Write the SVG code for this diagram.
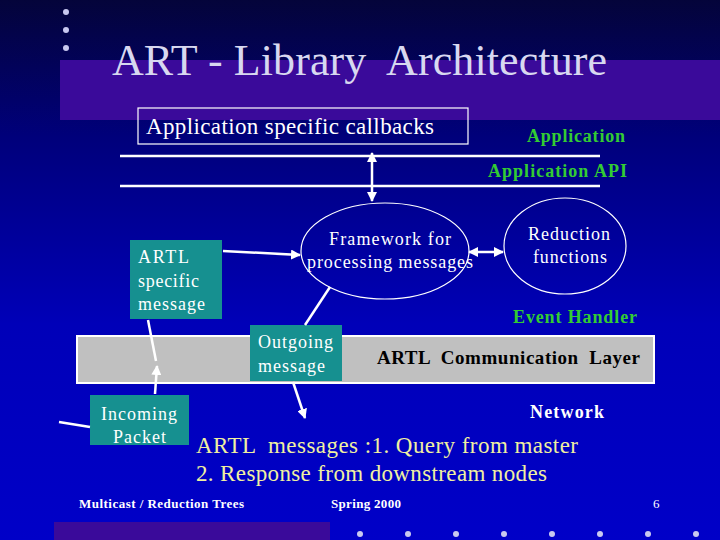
<svg xmlns="http://www.w3.org/2000/svg" width="720" height="540" viewBox="0 0 720 540">
<defs>
<linearGradient id="bg" x1="0" y1="0" x2="0" y2="1">
<stop offset="0" stop-color="#04043a"/>
<stop offset="0.25" stop-color="#00007a"/>
<stop offset="0.6" stop-color="#0000b8"/>
<stop offset="1" stop-color="#0000c8"/>
</linearGradient>
<marker id="ah" viewBox="0 0 10 10" refX="9" refY="5" markerWidth="4" markerHeight="4" orient="auto-start-reverse">
<path d="M0,0 L10,5 L0,10 z" fill="#ffffff"/>
</marker>
<style>
.serif{font-family:"Liberation Serif","Times New Roman",serif;}
.w{fill:#ffffff;}
.g{fill:#33cc33;font-weight:bold;font-size:18px;}
.teal{fill:#169090;}
.ln{stroke:#ffffff;stroke-width:2.5;fill:none;}
.dot{fill:#c8c8f0;}
</style>
</defs>
<rect x="0" y="0" width="720" height="540" fill="url(#bg)"/>
<rect x="60" y="60" width="660" height="60" fill="#3a0a9a"/>
<rect x="54" y="522" width="276" height="18" fill="#3a0a9a"/>
<g id="dots">
<circle class="dot" cx="66" cy="12" r="3"/>
<circle class="dot" cx="66" cy="30" r="3"/>
<circle class="dot" cx="66" cy="48" r="3"/>
<circle class="dot" cx="360" cy="534" r="3"/>
<circle class="dot" cx="408" cy="534" r="3"/>
<circle class="dot" cx="456" cy="534" r="3"/>
<circle class="dot" cx="504" cy="534" r="3"/>
<circle class="dot" cx="552" cy="534" r="3"/>
<circle class="dot" cx="600" cy="534" r="3"/>
<circle class="dot" cx="648" cy="534" r="3"/>
<circle class="dot" cx="696" cy="534" r="3"/>
</g>
<text class="serif" x="112" y="75" font-size="44" fill="#d8d8f0" xml:space="preserve" textLength="495" lengthAdjust="spacing">ART - Library  Architecture</text>

<g id="layers">
<line class="ln" x1="120" y1="156" x2="600" y2="156" stroke-width="3"/>
<line class="ln" x1="120" y1="186" x2="600" y2="186" stroke-width="3"/>
<text class="serif g" x="527" y="142" textLength="98" lengthAdjust="spacing">Application</text>
<text class="serif g" x="488" y="177" textLength="139" lengthAdjust="spacing">Application API</text>
<text class="serif g" x="513" y="323" textLength="124" lengthAdjust="spacing">Event Handler</text>
</g>

<g id="callbacks">
<rect x="138" y="108" width="330" height="36" fill="none" stroke="#ffffff" stroke-width="1.2"/>
<text class="serif w" x="146" y="134" font-size="23" textLength="288" lengthAdjust="spacing">Application specific callbacks</text>
</g>

<g id="comm-layer">
<rect x="77" y="336" width="577" height="47" fill="#c0c0c0" stroke="#ffffff" stroke-width="2"/>
<text class="serif" x="377" y="364" font-size="19" font-weight="bold" fill="#000000" xml:space="preserve" textLength="263" lengthAdjust="spacing">ARTL  Communication  Layer</text>
</g>

<g id="framework">
<ellipse cx="385" cy="251" rx="84" ry="48" fill="none" stroke="#ffffff" stroke-width="1.2"/>
<text class="serif w" x="329" y="245" font-size="18" textLength="122" lengthAdjust="spacing">Framework for</text>
<text class="serif w" x="307" y="268" font-size="18" textLength="166" lengthAdjust="spacing">processing messages</text>
</g>

<g id="reduction">
<ellipse cx="565" cy="246" rx="61" ry="48" fill="none" stroke="#ffffff" stroke-width="1.2"/>
<text class="serif w" x="528" y="240" font-size="18" textLength="82" lengthAdjust="spacing">Reduction</text>
<text class="serif w" x="533" y="263" font-size="18" textLength="74" lengthAdjust="spacing">functions</text>
</g>

<g id="artl-msg">
<rect class="teal" x="130" y="240" width="92" height="79"/>
<text class="serif w" x="138" y="263" font-size="18" textLength="51" lengthAdjust="spacing">ARTL</text>
<text class="serif w" x="138" y="287" font-size="18" textLength="61" lengthAdjust="spacing">specific</text>
<text class="serif w" x="138" y="310" font-size="18" textLength="67" lengthAdjust="spacing">message</text>
</g>

<g id="outgoing">
<rect class="teal" x="250" y="325" width="92" height="56"/>
<text class="serif w" x="258" y="348" font-size="18" textLength="75" lengthAdjust="spacing">Outgoing</text>
<text class="serif w" x="258" y="372" font-size="18" textLength="67" lengthAdjust="spacing">message</text>
</g>

<g id="incoming">
<rect class="teal" x="90" y="395" width="99" height="50"/>
<text class="serif w" x="101" y="420" font-size="18" textLength="76" lengthAdjust="spacing">Incoming</text>
<text class="serif w" x="113" y="443" font-size="18" textLength="53" lengthAdjust="spacing">Packet</text>
</g>

<g id="connectors">
<line class="ln" x1="372" y1="153" x2="372" y2="201" marker-start="url(#ah)" marker-end="url(#ah)"/>
<line class="ln" x1="469" y1="252" x2="503" y2="252" marker-start="url(#ah)" marker-end="url(#ah)"/>
<line class="ln" x1="223" y1="251" x2="300" y2="255" marker-end="url(#ah)"/>
<line class="ln" x1="330" y1="287" x2="305" y2="325"/>
<line class="ln" x1="293" y1="382" x2="305" y2="418" marker-end="url(#ah)"/>
<line class="ln" x1="148" y1="320" x2="156" y2="361"/>
<line class="ln" x1="155" y1="394" x2="157" y2="366" marker-end="url(#ah)"/>
<line class="ln" x1="59" y1="422" x2="90" y2="427"/>
</g>

<text class="serif" x="530" y="418" font-size="18" font-weight="bold" fill="#ffffff" textLength="74" lengthAdjust="spacing">Network</text>
<text class="serif" x="196" y="453" font-size="23" fill="#f0f0a0" xml:space="preserve" textLength="382" lengthAdjust="spacing">ARTL  messages :1. Query from master</text>
<text class="serif" x="196" y="481" font-size="23" fill="#f0f0a0" textLength="351" lengthAdjust="spacing">2. Response from downstream nodes</text>

<text class="serif" x="79" y="508" font-size="13" font-weight="bold" fill="#ffffff" textLength="165" lengthAdjust="spacing">Multicast / Reduction Trees</text>
<text class="serif" x="331" y="508" font-size="13" font-weight="bold" fill="#ffffff" textLength="70" lengthAdjust="spacing">Spring 2000</text>
<text class="serif" x="653" y="508" font-size="13" fill="#ffffff">6</text>
</svg>
